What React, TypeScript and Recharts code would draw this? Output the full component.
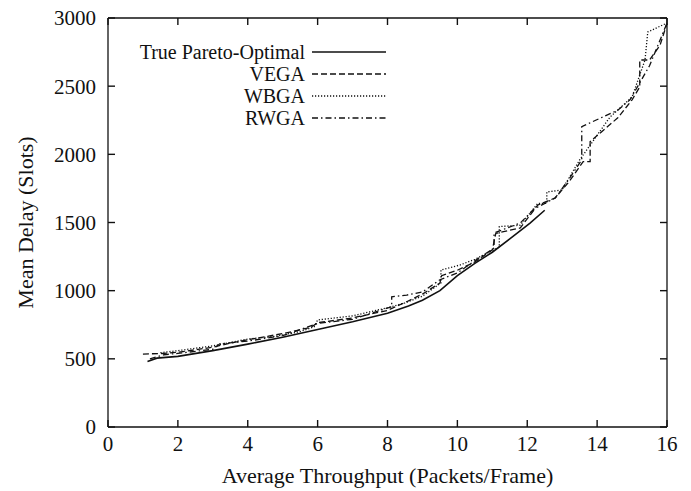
import React from 'react';
import { LineChart, Line, XAxis, YAxis } from 'recharts';

type Pt = { x: number; y: number };
const mk = (a: number[][]): Pt[] => a.map(([x, y]) => ({ x, y }));

const xTicks = [0, 2, 4, 6, 8, 10, 12, 14, 16];
const yTicks = [0, 500, 1000, 1500, 2000, 2500, 3000];

const pareto = mk([
  [1.13, 480], [1.4, 505], [2, 518], [3, 560], [4, 608], [5, 658], [6, 715], [7, 772],
  [8, 835], [8.6, 888], [9, 930], [9.5, 1000], [10, 1110], [10.5, 1200], [11, 1282],
  [11.5, 1380], [12.08, 1496], [12.5, 1590],
]);

const vega = mk([
  [1.0, 535], [1.6, 540], [2, 548], [3, 585], [3.5, 615], [4, 640], [5, 685], [5.8, 730],
  [6, 765], [7, 800], [8, 855], [8.55, 919], [9, 975], [9.5, 1056], [9.55, 1110], [10, 1150],
  [10.5, 1210], [11, 1300], [11.1, 1420], [11.8, 1460], [12.3, 1628], [12.8, 1680],
  [13.2, 1800], [13.6, 1946], [13.8, 1946], [13.8, 2093], [14.6, 2270], [15, 2400],
  [15.22, 2494], [15.22, 2692], [15.5, 2692], [15.8, 2800], [16, 2960],
]);

const wbga = mk([
  [1.5, 545], [2, 560], [3, 595], [4, 645], [4.8, 665], [5.5, 700], [5.9, 735], [6, 785],
  [7, 815], [8, 875], [8.5, 910], [9, 960], [9.53, 1056], [9.53, 1152], [10.07, 1188],
  [10.5, 1230], [11.2, 1320], [11.2, 1470], [11.8, 1480], [12.3, 1640], [12.56, 1640],
  [12.56, 1724], [12.99, 1738], [13.5, 1959], [14.37, 2274], [15, 2420], [15.37, 2692],
  [15.45, 2898], [16, 2963],
]);

const rwga = mk([
  [1.2, 500], [1.6, 530], [2, 540], [3, 570], [3.2, 610], [4, 630], [5, 670], [6, 760],
  [7, 790], [8.12, 882], [8.12, 955], [8.55, 968], [9, 990], [9.5, 1080], [10, 1130],
  [10.5, 1220], [11.05, 1313], [11.05, 1423], [11.8, 1496], [12.2, 1600], [12.8, 1680],
  [13.2, 1820], [13.56, 1959], [13.56, 2203], [14.6, 2325], [14.94, 2400], [15.5, 2650],
  [16, 2963],
]);

const series = [
  { name: 'True Pareto-Optimal', data: pareto, dash: undefined as string | undefined, w: 1.6 },
  { name: 'VEGA', data: vega, dash: '6 3', w: 1.3 },
  { name: 'WBGA', data: wbga, dash: '1.2 1.8', w: 1.3 },
  { name: 'RWGA', data: rwga, dash: '6 3 1.5 3', w: 1.3 },
];

const FONT = '"Liberation Serif", "Times New Roman", serif';
const INK = '#111';
const TICK = 7;
const titleStyle = { fontFamily: FONT, fontSize: 22, fill: INK };
const tl = { stroke: INK, strokeWidth: 1.3 };

// Custom tick renderers: label plus an inward tick mark at the axis position
const BottomTick = (p: any) => (
  <g>
    <line x1={p.x} y1={p.y} x2={p.x} y2={p.y - TICK} stroke={INK} strokeWidth={1.4} />
    <text x={p.x} y={p.y + 9} dy="0.71em" textAnchor="middle" fontFamily={FONT} fontSize={21} fill={INK}>
      {p.payload.value}
    </text>
  </g>
);
const LeftTick = (p: any) => (
  <g>
    <line x1={p.x} y1={p.y} x2={p.x + TICK} y2={p.y} stroke={INK} strokeWidth={1.4} />
    <text x={p.x - 12} y={p.y} dy="0.355em" textAnchor="end" fontFamily={FONT} fontSize={21} fill={INK}>
      {p.payload.value}
    </text>
  </g>
);
const TopTick = (p: any) => <line x1={p.x} y1={p.y} x2={p.x} y2={p.y + TICK} stroke={INK} strokeWidth={1.4} />;
const RightTick = (p: any) => <line x1={p.x} y1={p.y} x2={p.x - TICK} y2={p.y} stroke={INK} strokeWidth={1.4} />;

export default function App() {
  return (
    <div style={{ position: 'absolute', left: 0, top: 0, width: 691, height: 491, background: '#fff' }}>
      <LineChart width={691} height={491} margin={{ top: 18, right: 24, left: 48, bottom: 0 }}>
        <XAxis
          xAxisId={0}
          type="number"
          dataKey="x"
          domain={[0, 16]}
          ticks={xTicks}
          interval={0}
          height={64}
          tickSize={0}
          tickMargin={0}
          tickLine={false}
          axisLine={tl}
          tick={BottomTick}
          label={{ value: 'Average Throughput (Packets/Frame)', position: 'insideBottom', offset: 8, style: titleStyle }}
        />
        <XAxis xAxisId="t" type="number" dataKey="x" domain={[0, 16]} ticks={xTicks} interval={0} mirror orientation="top" tick={TopTick} tickSize={0} tickMargin={0} tickLine={false} axisLine={tl} />
        <YAxis
          yAxisId={0}
          type="number"
          domain={[0, 3000]}
          ticks={yTicks}
          interval={0}
          width={60}
          tickSize={0}
          tickMargin={0}
          tickLine={false}
          axisLine={tl}
          tick={LeftTick}
          label={{ value: 'Mean Delay (Slots)', angle: -90, position: 'insideLeft', offset: -23, style: { ...titleStyle, textAnchor: 'middle' } }}
        />
        <YAxis yAxisId="r" type="number" domain={[0, 3000]} ticks={yTicks} interval={0} mirror orientation="right" tick={RightTick} tickSize={0} tickMargin={0} tickLine={false} axisLine={tl} />
        <Line xAxisId="t" yAxisId="r" data={pareto} dataKey="y" stroke="none" dot={false} activeDot={false} isAnimationActive={false} legendType="none" />
        {series.map((s) => (
          <Line
            key={s.name}
            xAxisId={0}
            yAxisId={0}
            data={s.data}
            dataKey="y"
            name={s.name}
            type="linear"
            stroke={INK}
            strokeWidth={s.w}
            strokeDasharray={s.dash}
            dot={false}
            activeDot={false}
            isAnimationActive={false}
          />
        ))}
      </LineChart>
      <div style={{ position: 'absolute', left: 100, top: 41, fontFamily: FONT, fontSize: 20, color: INK, lineHeight: '22px' }}>
        {series.map((s) => (
          <div key={s.name} style={{ display: 'flex', alignItems: 'center', height: 22 }}>
            <span style={{ width: 205, textAlign: 'right', whiteSpace: 'nowrap' }}>{s.name}</span>
            <svg width={80} height={10} style={{ marginLeft: 7 }}>
              <line x1={0} y1={5} x2={74} y2={5} stroke={INK} strokeWidth={s.w} strokeDasharray={s.dash} />
            </svg>
          </div>
        ))}
      </div>
    </div>
  );
}
